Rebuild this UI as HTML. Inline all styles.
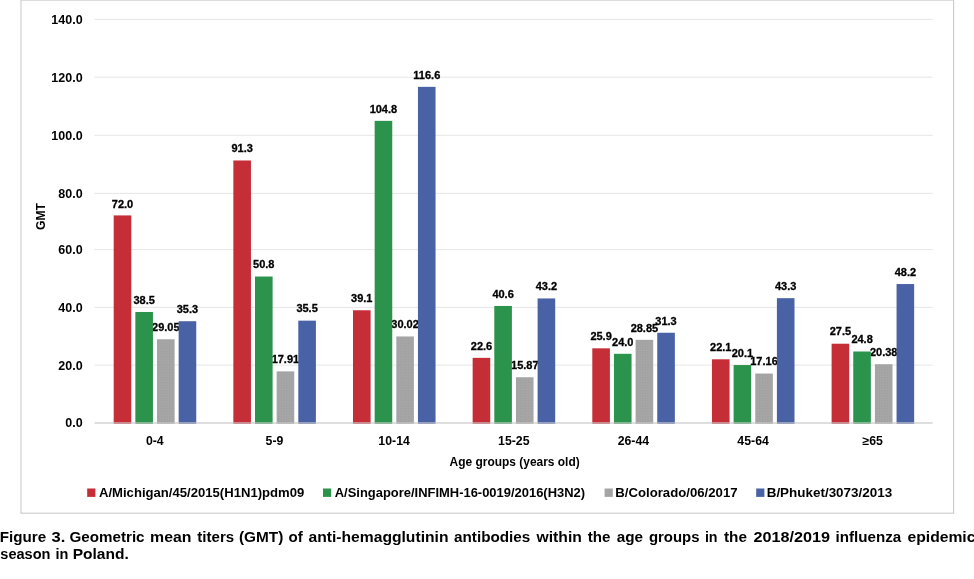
<!DOCTYPE html>
<html lang="en">
<head>
<meta charset="utf-8">
<title>Figure 3. Geometric mean titers (GMT)</title>
<style>
html,body{margin:0;padding:0;background:#fff;}
body{width:974px;height:579px;overflow:hidden;}
svg{display:block;}
svg text{font-family:"Liberation Sans", Arial, Helvetica, sans-serif;font-weight:bold;fill:#000;}
.v{font-size:11.0px;text-anchor:middle;stroke:#000;stroke-width:0.3px;}
.ax{font-size:12.5px;text-anchor:end;}
.cat{font-size:12.3px;text-anchor:middle;}
.lg{font-size:13.2px;}
.cap{font-size:15.2px;}
</style>
</head>
<body>
<svg width="974" height="579" viewBox="0 0 974 579">
<defs><pattern id="gp" width="2.6" height="2.6" patternUnits="userSpaceOnUse"><rect width="2.6" height="2.6" fill="#aaaaaa"/><rect x="0" y="0" width="1.3" height="1.3" fill="#9b9b9b"/><rect x="1.3" y="1.3" width="1.3" height="1.3" fill="#a3a3a3"/></pattern></defs>
<rect x="0" y="0" width="974" height="579" fill="#fff"/>
<rect x="21" y="0.1" width="932.6" height="513.1" fill="none" stroke="#cbcbcb" stroke-width="1.1"/>
<line x1="94.5" y1="19.4" x2="932.7" y2="19.4" stroke="#d2d2d2" stroke-width="0.55"/>
<line x1="94.5" y1="77.2" x2="932.7" y2="77.2" stroke="#d2d2d2" stroke-width="0.55"/>
<line x1="94.5" y1="135.3" x2="932.7" y2="135.3" stroke="#d2d2d2" stroke-width="0.55"/>
<line x1="94.5" y1="193.4" x2="932.7" y2="193.4" stroke="#d2d2d2" stroke-width="0.55"/>
<line x1="94.5" y1="249.6" x2="932.7" y2="249.6" stroke="#d2d2d2" stroke-width="0.55"/>
<line x1="94.5" y1="307.4" x2="932.7" y2="307.4" stroke="#d2d2d2" stroke-width="0.55"/>
<line x1="94.5" y1="365.1" x2="932.7" y2="365.1" stroke="#d2d2d2" stroke-width="0.55"/>
<text class="ax" x="82.6" y="23.8">140.0</text>
<text class="ax" x="82.6" y="81.6">120.0</text>
<text class="ax" x="82.6" y="139.7">100.0</text>
<text class="ax" x="82.6" y="197.8">80.0</text>
<text class="ax" x="82.6" y="254.0">60.0</text>
<text class="ax" x="82.6" y="311.8">40.0</text>
<text class="ax" x="82.6" y="369.5">20.0</text>
<text class="ax" x="82.6" y="427.4">0.0</text>
<text class="cat" transform="translate(45.2,216.5) rotate(-90)" textLength="27" lengthAdjust="spacingAndGlyphs">GMT</text>
<text class="v" x="122.5" y="208.4">72.0</text>
<text class="v" x="144.2" y="303.7">38.5</text>
<text class="v" x="165.8" y="330.9">29.05</text>
<text class="v" x="187.4" y="312.9">35.3</text>
<text class="v" x="242.2" y="152.2">91.3</text>
<text class="v" x="263.8" y="268.2">50.8</text>
<text class="v" x="285.4" y="363.1">17.91</text>
<text class="v" x="307.1" y="312.4">35.5</text>
<text class="v" x="361.8" y="302.0">39.1</text>
<text class="v" x="383.4" y="112.6">104.8</text>
<text class="v" x="405.1" y="328.2">30.02</text>
<text class="v" x="426.8" y="78.5">116.6</text>
<text class="v" x="481.5" y="349.5">22.6</text>
<text class="v" x="503.1" y="297.7">40.6</text>
<text class="v" x="524.8" y="368.9">15.87</text>
<text class="v" x="546.4" y="290.2">43.2</text>
<text class="v" x="601.1" y="340.0">25.9</text>
<text class="v" x="622.8" y="345.5">24.0</text>
<text class="v" x="644.4" y="331.5">28.85</text>
<text class="v" x="666.0" y="324.5">31.3</text>
<text class="v" x="720.8" y="351.0">22.1</text>
<text class="v" x="742.4" y="356.8">20.1</text>
<text class="v" x="764.0" y="365.2">17.16</text>
<text class="v" x="785.7" y="289.9">43.3</text>
<text class="v" x="840.4" y="335.4">27.5</text>
<text class="v" x="862.1" y="343.2">24.8</text>
<text class="v" x="883.7" y="355.9">20.38</text>
<text class="v" x="905.4" y="275.7">48.2</text>
<rect x="113.70" y="215.42" width="17.60" height="208.48" fill="#c52d37"/>
<rect x="135.35" y="312.00" width="17.60" height="111.90" fill="#2b934c"/>
<rect x="157.00" y="339.25" width="17.60" height="84.65" fill="url(#gp)"/>
<rect x="178.65" y="321.23" width="17.60" height="102.67" fill="#4962a5"/>
<rect x="233.35" y="160.48" width="17.60" height="263.42" fill="#c52d37"/>
<rect x="255.00" y="276.54" width="17.60" height="147.36" fill="#2b934c"/>
<rect x="276.65" y="371.37" width="17.60" height="52.53" fill="url(#gp)"/>
<rect x="298.30" y="320.65" width="17.60" height="103.25" fill="#4962a5"/>
<rect x="353.00" y="310.27" width="17.60" height="113.63" fill="#c52d37"/>
<rect x="374.65" y="120.86" width="17.60" height="303.04" fill="#2b934c"/>
<rect x="396.30" y="336.45" width="17.60" height="87.45" fill="url(#gp)"/>
<rect x="417.95" y="86.84" width="17.60" height="337.06" fill="#4962a5"/>
<rect x="472.65" y="357.84" width="17.60" height="66.06" fill="#c52d37"/>
<rect x="494.30" y="305.95" width="17.60" height="117.95" fill="#2b934c"/>
<rect x="515.95" y="377.25" width="17.60" height="46.65" fill="url(#gp)"/>
<rect x="537.60" y="298.45" width="17.60" height="125.45" fill="#4962a5"/>
<rect x="592.30" y="348.33" width="17.60" height="75.57" fill="#c52d37"/>
<rect x="613.95" y="353.81" width="17.60" height="70.09" fill="#2b934c"/>
<rect x="635.60" y="339.83" width="17.60" height="84.07" fill="url(#gp)"/>
<rect x="657.25" y="332.76" width="17.60" height="91.14" fill="#4962a5"/>
<rect x="711.95" y="359.29" width="17.60" height="64.61" fill="#c52d37"/>
<rect x="733.60" y="365.05" width="17.60" height="58.85" fill="#2b934c"/>
<rect x="755.25" y="373.53" width="17.60" height="50.37" fill="url(#gp)"/>
<rect x="776.90" y="298.17" width="17.60" height="125.73" fill="#4962a5"/>
<rect x="831.60" y="343.72" width="17.60" height="80.18" fill="#c52d37"/>
<rect x="853.25" y="351.50" width="17.60" height="72.40" fill="#2b934c"/>
<rect x="874.90" y="364.24" width="17.60" height="59.66" fill="url(#gp)"/>
<rect x="896.55" y="284.04" width="17.60" height="139.86" fill="#4962a5"/>
<line x1="94.5" y1="423.0" x2="932.7" y2="423.0" stroke="#c8c8c8" stroke-opacity="0.6" stroke-width="2"/>
<text class="cat" x="154.8" y="444.8">0-4</text>
<text class="cat" x="274.5" y="444.8">5-9</text>
<text class="cat" x="394.1" y="444.8">10-14</text>
<text class="cat" x="513.8" y="444.8">15-25</text>
<text class="cat" x="633.4" y="444.8">26-44</text>
<text class="cat" x="753.1" y="444.8">45-64</text>
<text class="cat" x="872.7" y="444.8">≥65</text>
<text class="lg" x="449.60" y="465.5" textLength="130.09" lengthAdjust="spacingAndGlyphs">Age groups (years old)</text>
<rect x="87.2" y="488.5" width="8.2" height="8.4" fill="#c52d37"/>
<text class="lg" x="98.97" y="497.1" textLength="205.31" lengthAdjust="spacingAndGlyphs">A/Michigan/45/2015(H1N1)pdm09</text>
<rect x="323.0" y="488.5" width="8.2" height="8.4" fill="#2b934c"/>
<text class="lg" x="334.78" y="497.1" textLength="250.27" lengthAdjust="spacingAndGlyphs">A/Singapore/INFIMH-16-0019/2016(H3N2)</text>
<rect x="604.6" y="488.5" width="8.2" height="8.4" fill="url(#gp)"/>
<text class="lg" x="615.32" y="497.1" textLength="122.26" lengthAdjust="spacingAndGlyphs">B/Colorado/06/2017</text>
<rect x="756.2" y="488.5" width="8.2" height="8.4" fill="#4962a5"/>
<text class="lg" x="766.70" y="497.1" textLength="125.48" lengthAdjust="spacingAndGlyphs">B/Phuket/3073/2013</text>
<text class="cap" y="541.5"><tspan x="-0.21" textLength="46.33" lengthAdjust="spacingAndGlyphs">Figure</tspan> <tspan x="51.52" textLength="13.82" lengthAdjust="spacingAndGlyphs">3.</tspan> <tspan x="69.58" textLength="74.97" lengthAdjust="spacingAndGlyphs">Geometric</tspan> <tspan x="150.05" textLength="41.43" lengthAdjust="spacingAndGlyphs">mean</tspan> <tspan x="197.32" textLength="36.90" lengthAdjust="spacingAndGlyphs">titers</tspan> <tspan x="238.94" textLength="44.33" lengthAdjust="spacingAndGlyphs">(GMT)</tspan> <tspan x="288.41" textLength="14.26" lengthAdjust="spacingAndGlyphs">of</tspan> <tspan x="308.44" textLength="140.03" lengthAdjust="spacingAndGlyphs">anti-hemagglutinin</tspan> <tspan x="454.05" textLength="76.27" lengthAdjust="spacingAndGlyphs">antibodies</tspan> <tspan x="536.55" textLength="45.33" lengthAdjust="spacingAndGlyphs">within</tspan> <tspan x="587.72" textLength="22.70" lengthAdjust="spacingAndGlyphs">the</tspan> <tspan x="616.75" textLength="26.27" lengthAdjust="spacingAndGlyphs">age</tspan> <tspan x="648.89" textLength="50.63" lengthAdjust="spacingAndGlyphs">groups</tspan> <tspan x="704.90" textLength="12.68" lengthAdjust="spacingAndGlyphs">in</tspan> <tspan x="724.01" textLength="23.01" lengthAdjust="spacingAndGlyphs">the</tspan> <tspan x="753.44" textLength="76.66" lengthAdjust="spacingAndGlyphs">2018/2019</tspan> <tspan x="835.54" textLength="65.76" lengthAdjust="spacingAndGlyphs">influenza</tspan> <tspan x="907.49" textLength="67.97" lengthAdjust="spacingAndGlyphs">epidemic</tspan></text>
<text class="cap" y="558.7"><tspan x="0.29" textLength="50.22" lengthAdjust="spacingAndGlyphs">season</tspan> <tspan x="55.39" textLength="12.92" lengthAdjust="spacingAndGlyphs">in</tspan> <tspan x="72.66" textLength="56.21" lengthAdjust="spacingAndGlyphs">Poland.</tspan></text>
</svg>
</body>
</html>
